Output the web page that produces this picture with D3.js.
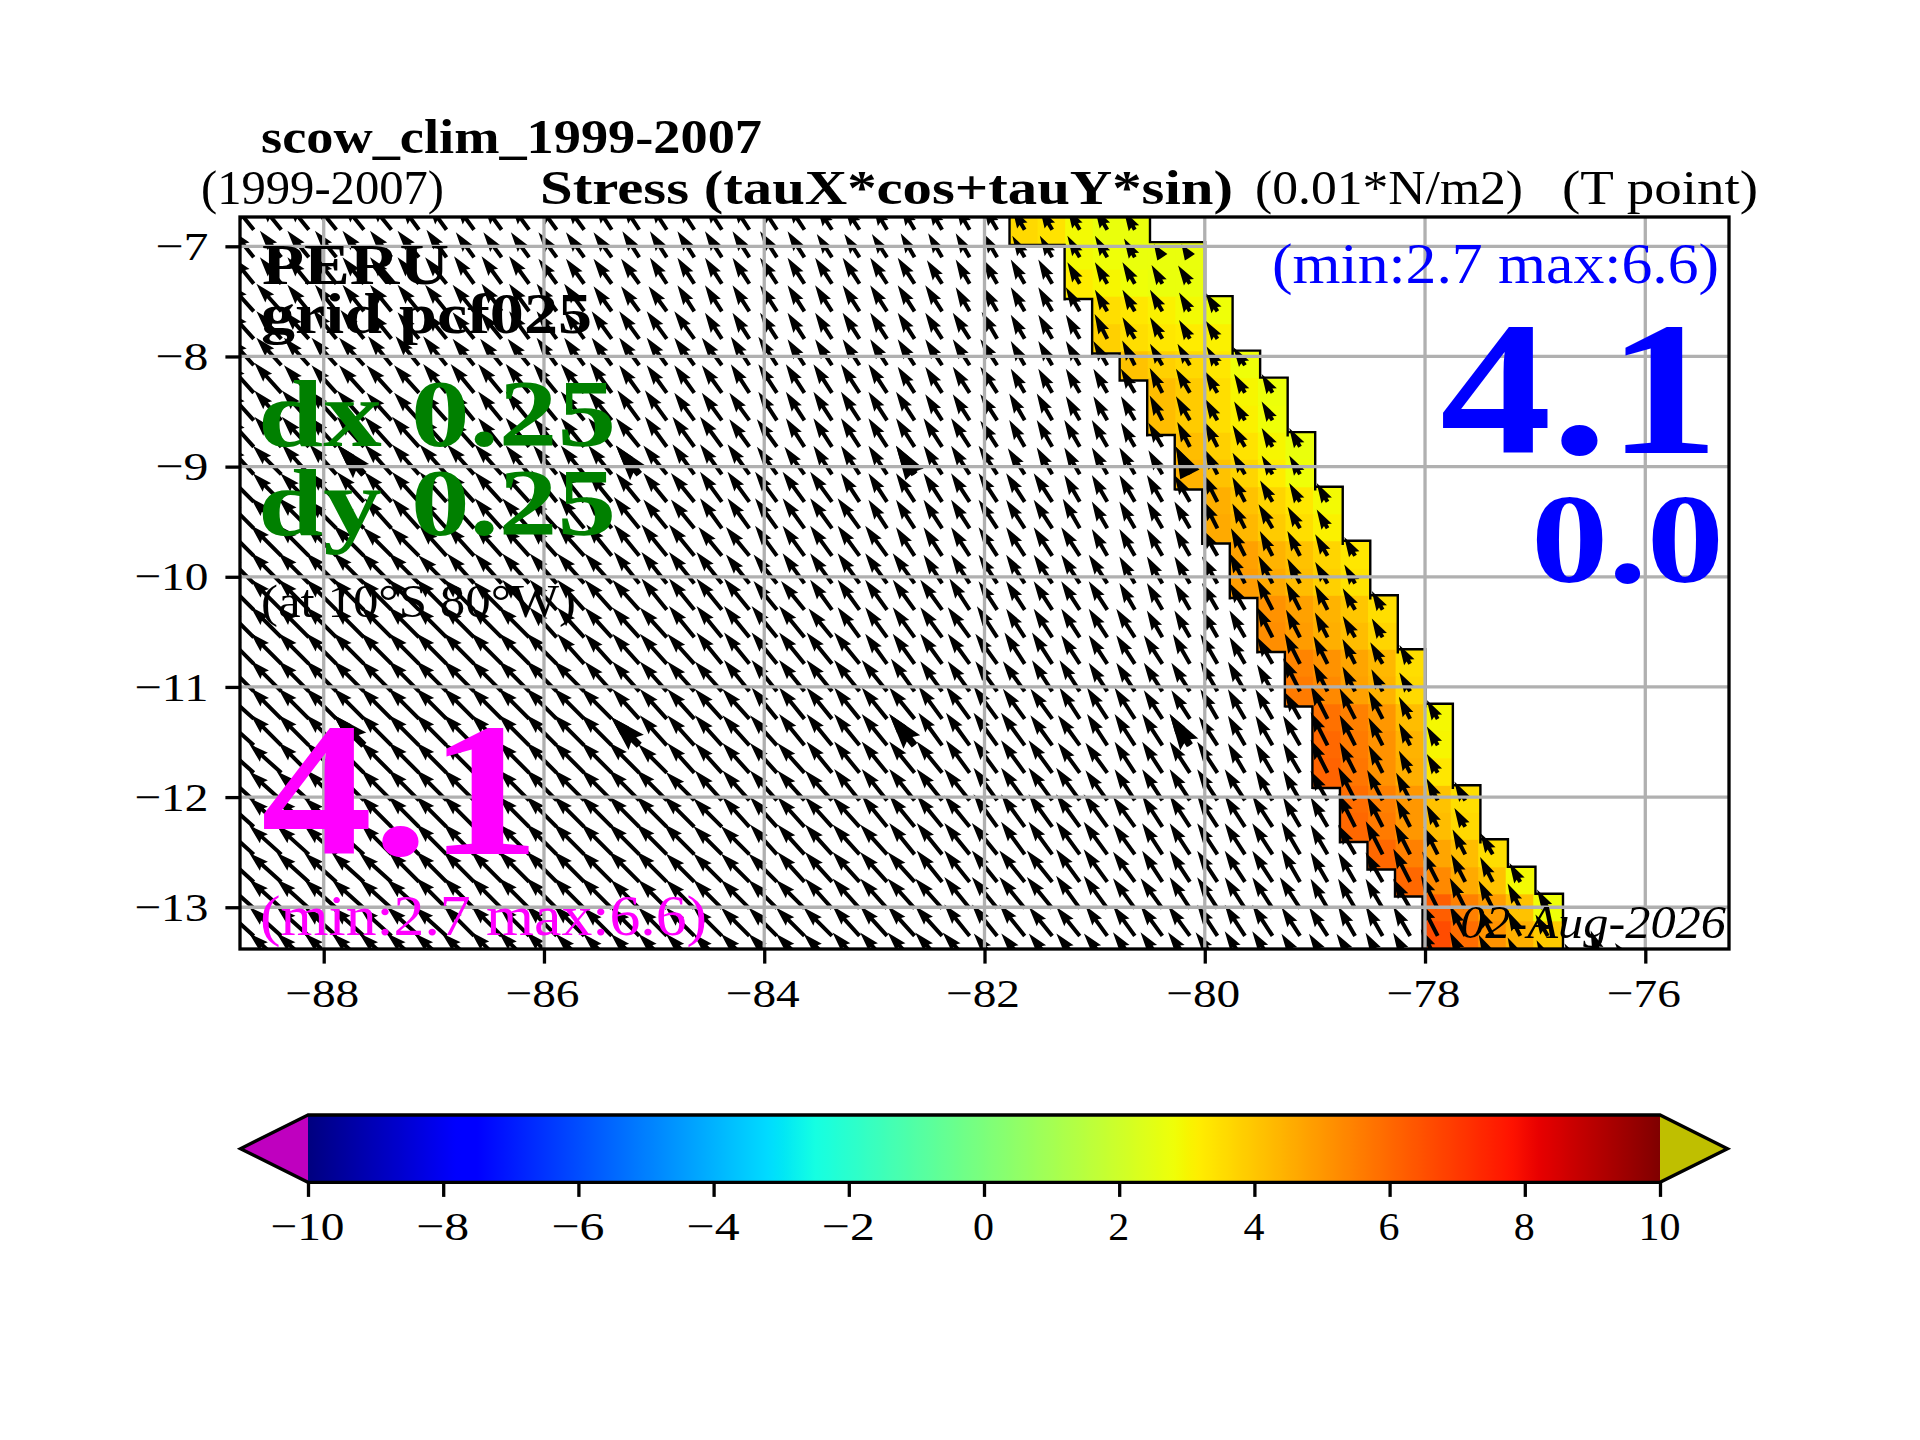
<!DOCTYPE html>
<html>
<head>
<meta charset="utf-8">
<script src="https://cdn.jsdelivr.net/npm/d3@7"></script>
<style>
body { margin: 0; background: #fff; }
text { font-family: "Liberation Serif", serif; }
</style>
</head>
<body>
<svg id="drawing_region"></svg>
<script>
const xTicks = [-88, -86, -84, -82, -80, -78, -76];
const yTicks = [-7, -8, -9, -10, -11, -12, -13];
const cbTicks = [-10, -8, -6, -4, -2, 0, 2, 4, 6, 8, 10];

// west edge of the grid and cell width, degrees
const firstLon = -88.76;
const cellLon = 0.25;
// latitudes of the row centres (mercator grid, so not quite 0.25)
const gridLat = [-6.85, -7.10, -7.34, -7.59, -7.84, -8.08, -8.33, -8.58, -8.82, -9.07,
    -9.32, -9.56, -9.81, -10.06, -10.30, -10.55, -10.79, -11.04, -11.29, -11.53,
    -11.78, -12.03, -12.27, -12.52, -12.77, -13.01, -13.26, -13.50];

// first coloured column of each row, the band is five cells wide
const bandStart = [28, 30, 30, 31, 31, 32, 33, 33, 34, 34, 35, 35, 36, 36, 37, 37, 38, 38, 39, 39, 39, 40, 40, 41, 42, 43, 43];
// alongshore stress in the band, 0.01 N/m2
const bandValues = [
    [3.6, 3.4, 2.9, 2.7, 2.7],
    [2.9, 2.8, 2.7, 2.7, 2.7],
    [3.2, 3.0, 2.8, 2.7, 2.7],
    [3.5, 3.3, 3.1, 2.9, 2.8],
    [3.8, 3.5, 3.3, 3.2, 3.1],
    [4.1, 3.8, 3.6, 3.3, 2.8],
    [4.2, 3.9, 3.5, 3.0, 2.75],
    [4.2, 3.9, 3.5, 3.1, 2.8],
    [4.2, 3.8, 3.4, 3.0, 2.7],
    [4.4, 4.1, 3.7, 3.2, 2.8],
    [4.5, 4.1, 3.7, 3.3, 2.9],
    [4.6, 4.3, 3.9, 3.5, 3.1],
    [4.8, 4.4, 4.1, 3.7, 3.3],
    [4.9, 4.6, 4.2, 3.8, 3.4],
    [5.1, 4.8, 4.4, 4.0, 3.5],
    [5.2, 4.9, 4.5, 4.2, 3.7],
    [5.4, 5.1, 4.7, 4.3, 3.5],
    [5.6, 5.3, 4.8, 4.4, 3.6],
    [5.8, 5.5, 5.0, 4.2, 2.95],
    [6.0, 5.6, 5.1, 4.4, 3.0],
    [6.1, 5.7, 5.1, 4.5, 3.3],
    [5.9, 5.5, 5.0, 4.1, 3.5],
    [6.0, 5.6, 5.0, 4.2, 3.6],
    [6.0, 5.5, 4.7, 4.2, 3.5],
    [6.0, 5.3, 4.6, 4.1, 2.9],
    [6.2, 5.5, 4.9, 4.1, 2.8],
    [6.6, 5.9, 5.1, 4.5, 3.9]
];

// arrow speed per cell, one digit per column: 0 is 2.5 and 9 is 7
const speedRows = [
    "66666655555 5555555555 4444444 33332",
    "66666666555 5555555555 4444444 33 33200",
    "66666666666 5555555555 5555444 44 33322",
    "77666666666 6655555555 5555544 444 33322",
    "77777666666 6666665555 5555555 444 43322",
    "77777777666 6666666665 5555555 4444 43322",
    "88777777777 7776666666 6665555 44444 44322",
    "88888777777 7777766666 6666555 55444 44322",
    "88888888777 7777777666 6666665 555544 44322",
    "88888888887 7777777766 6666666 555554 54322",
    "98888888888 8877777777 7666666 6655555 54322",
    "99988888888 8888777777 7766666 6665555 54432",
    "99999888888 8888887777 7776666 66655555 54432",
    "99999998888 8888888777 7777666 66665555 65432",
    "99999999988 8888888877 7777776 666655555 65432",
    "99999999999 8888888888 7777777 666665555 65432",
    "99999999999 9888888888 8877777 7766666655 65432",
    "99999999999 9988888888 8888777 7776666665 75432",
    "99999999999 9998888888 8888888 77777666665 76532",
    "99999999999 9998888888 8888888 87777776666 76532",
    "99999999999 9999888888 8888888 88777777666 76532",
    "99999999999 9999988888 8888888 888777777666 76532",
    "99999999999 9999998888 8888888 888877777766 76532",
    "99999999999 9999998888 8888888 8888777777766 76543",
    "99999999999 9999988888 8888888 88887777777666 76542",
    "99999999999 9998888888 8888888 888877777776666 76542",
    "99999999999 9988888888 8888888 877777777766666 76543",
    "99999999999 9888888888 8888887 777777777766666 76543263"
];
// arrow direction per cell, degrees north of west: 0 is 42 and 9 is 69
const directionRows = [
    "33333344444 4455555555 5566666 66666",
    "33333334444 4445555555 5556666 66 66655",
    "33333333444 4444555555 5555566 66 66665",
    "22333333344 4444455555 5555566 666 66665",
    "22233333334 4444445555 5555556 666 76665",
    "22222333333 4444444555 5555555 6666 76665",
    "22222223333 3344444555 5555555 66666 76666",
    "22222222333 3334444455 5555555 66666 76666",
    "22222222233 3333444445 5555555 666666 77666",
    "21222222223 3333344444 5555555 566666 77666",
    "11122222222 3333334444 4555555 5566666 77666",
    "11111222222 2333334444 4455555 5566666 77666",
    "11111112222 2233333344 4445555 55566666 77766",
    "11111111222 2223333334 4444555 55556666 77766",
    "11111111112 2222333333 4444455 555566666 77766",
    "11111111111 2222233333 3444445 555556666 77766",
    "11111111111 1222223333 3344444 5555556666 77766",
    "11111111111 1122222333 3334444 4555555666 77776",
    "01111111111 1112222233 3333444 44555556666 77776",
    "01111111111 1111222223 3333444 44455555666 77776",
    "00111111111 1111122222 3333344 44445555666 77776",
    "00011111111 1111112222 2333334 444455555666 77776",
    "00001111111 1111111222 2233334 444445555566 77776",
    "00000111111 1111111122 2223333 4444455555666 77776",
    "00000011111 1111111112 2222333 33444555556666 77776",
    "00000001111 1111111111 2222233 334444555556666 77776",
    "00000000111 1111111111 1222233 333444455555666 77776",
    "00000000011 1111111111 1222223 333344445555566 77777693"
];
// the sparser overlay of heavier arrows
const boldCols = [4, 14, 24, 34];
const boldRows = [9, 19];

const jetStops = {
    r: [[0, 0], [0.35, 0], [0.66, 1], [0.89, 1], [1, 0.5]],
    g: [[0, 0], [0.125, 0], [0.375, 1], [0.64, 1], [0.91, 0], [1, 0]],
    b: [[0, 0.5], [0.11, 1], [0.34, 1], [0.65, 0], [1, 0]]
};

const svg = d3.select('#drawing_region').attr('width', 1920).attr('height', 1440);
svg.append('rect').attr('width', 1920).attr('height', 1440).attr('fill', '#fff');

const plot = { left: 240, right: 1729, top: 217, bottom: 949 };
const xScale = d3.scaleLinear().domain([-88.76, -75.24]).range([plot.left, plot.right]);
const yScale = d3.scaleLinear().domain([-6.734, -13.379]).range([plot.top, plot.bottom]);
const cbScale = d3.scaleLinear().domain([-10, 10]).range([308, 1660]);

const speedOf = d3.scaleLinear().domain([0, 9]).range([2.5, 7]);
const angleOf = d3.scaleLinear().domain([0, 9]).range([42, 69]);
const arrowLength = d3.scaleLinear().domain([0, 1]).range([0, 6.2]);

const jetChannel = c => d3.scaleLinear().domain(jetStops[c].map(d => d[0])).range(jetStops[c].map(d => d[1]));
const jetR = jetChannel('r'), jetG = jetChannel('g'), jetB = jetChannel('b');
const valueToT = d3.scaleLinear().domain([-10, 10]).range([0, 1]).clamp(true);
function jet(v) {
    const t = valueToT(v);
    return d3.rgb(jetR(t) * 255, jetG(t) * 255, jetB(t) * 255).formatHex();
}

const colLeft = c => xScale(firstLon + c * cellLon);
const colCentre = c => xScale(firstLon + (c + 0.5) * cellLon);
const rowTop = r => r === 0
    ? yScale(gridLat[0]) - (yScale(gridLat[1]) - yScale(gridLat[0])) / 2
    : (yScale(gridLat[r - 1]) + yScale(gridLat[r])) / 2;

const defs = svg.append('defs');
defs.append('clipPath').attr('id', 'plot_clip')
    .append('rect')
    .attr('x', plot.left).attr('y', plot.top)
    .attr('width', plot.right - plot.left).attr('height', plot.bottom - plot.top);
const inner = svg.append('g').attr('clip-path', 'url(#plot_clip)');

// coloured band
const cells = [];
bandValues.forEach((row, r) => row.forEach((v, k) => cells.push({ r: r, c: bandStart[r] + k, v: v })));
inner.append('g').selectAll('rect')
    .data(cells)
    .enter()
    .append('rect')
    .attr('x', d => colLeft(d.c) - 0.8)
    .attr('y', d => rowTop(d.r) - 0.8)
    .attr('width', d => colLeft(d.c + 1) - colLeft(d.c) + 1.6)
    .attr('height', d => rowTop(d.r + 1) - rowTop(d.r) + 1.6)
    .attr('fill', d => jet(d.v));

// stair outline round the band, sits slightly outside the cells
const off = 1.4;
const stair = d3.path();
const nBand = bandStart.length;
stair.moveTo(colLeft(bandStart[0]) - off, rowTop(0) - 30);
stair.lineTo(colLeft(bandStart[0]) - off, rowTop(1) + off);
for (let r = 1; r < nBand; r++) {
    if (bandStart[r] !== bandStart[r - 1]) {
        stair.lineTo(colLeft(bandStart[r]) - off, rowTop(r) + off);
    }
    const next = r + 1 < nBand ? bandStart[r + 1] : bandStart[r];
    stair.lineTo(colLeft(bandStart[r]) - off, rowTop(r + 1) + (next !== bandStart[r] ? off : 30));
}
inner.append('path').attr('d', stair.toString())
    .attr('fill', 'none').attr('stroke', '#000').attr('stroke-width', 2.4);

const stairE = d3.path();
const bandEnd = r => bandStart[r] + bandValues[r].length;
stairE.moveTo(colLeft(bandEnd(0)) + off, rowTop(0) - 30);
stairE.lineTo(colLeft(bandEnd(0)) + off, rowTop(1) - off);
for (let r = 1; r < nBand; r++) {
    if (bandEnd(r) !== bandEnd(r - 1)) {
        stairE.lineTo(colLeft(bandEnd(r)) + off, rowTop(r) - off);
    }
    const next = r + 1 < nBand ? bandEnd(r + 1) : bandEnd(r);
    stairE.lineTo(colLeft(bandEnd(r)) + off, rowTop(r + 1) + (next !== bandEnd(r) ? -off : 30));
}
inner.append('path').attr('d', stairE.toString())
    .attr('fill', 'none').attr('stroke', '#000').attr('stroke-width', 2.4);

// quiver
function arrowShape(len, w) {
    const axis = Math.max(len - 4.5 * w, 0);
    const back = Math.max(len - 5 * w, 0);
    const p = d3.path();
    p.moveTo(0, -w / 2);
    p.lineTo(axis, -w / 2);
    p.lineTo(back, -1.5 * w);
    p.lineTo(len, 0);
    p.lineTo(back, 1.5 * w);
    p.lineTo(axis, w / 2);
    p.lineTo(0, w / 2);
    p.closePath();
    return p.toString();
}

const arrows = [];
speedRows.forEach((row, r) => {
    const speeds = row.replace(/ /g, '');
    const dirs = directionRows[r].replace(/ /g, '');
    d3.range(speeds.length).forEach(c => {
        arrows.push({ r: r, c: c, speed: speedOf(+speeds[c]), angle: angleOf(+dirs[c]) });
    });
});

const drawArrows = (data, w) => inner.append('g').selectAll('path')
    .data(data)
    .enter()
    .append('path')
    .attr('d', d => arrowShape(arrowLength(d.speed), w))
    .attr('transform', d => `translate(${colCentre(d.c)},${yScale(gridLat[d.r])}) rotate(${180 + d.angle})`)
    .attr('fill', '#000');

drawArrows(arrows, 4);
drawArrows(arrows.filter(d => boldCols.includes(d.c) && boldRows.includes(d.r)), 7.2);

// grid on top of the arrows
inner.append('g').selectAll('line').data(xTicks).enter().append('line')
    .attr('x1', d => xScale(d)).attr('x2', d => xScale(d))
    .attr('y1', plot.top).attr('y2', plot.bottom)
    .attr('stroke', '#b0b0b0').attr('stroke-width', 3.3);
inner.append('g').selectAll('line').data(yTicks).enter().append('line')
    .attr('y1', d => yScale(d)).attr('y2', d => yScale(d))
    .attr('x1', plot.left).attr('x2', plot.right)
    .attr('stroke', '#b0b0b0').attr('stroke-width', 3.3);

svg.append('rect')
    .attr('x', plot.left).attr('y', plot.top)
    .attr('width', plot.right - plot.left).attr('height', plot.bottom - plot.top)
    .attr('fill', 'none').attr('stroke', '#000').attr('stroke-width', 3.3);

// axes
const minusFmt = d => (d < 0 ? '\u2212' : '') + Math.abs(d);
const labelWidth = d => (d < 0 ? 32 : 0) + 21 * String(Math.abs(d)).length;

function styleAxis(g) {
    g.select('.domain').remove();
    g.selectAll('.tick line').attr('stroke', '#000').attr('stroke-width', 3.3);
    g.selectAll('.tick text')
        .attr('fill', '#000')
        .style('font-size', '41px')
        .style('font-family', '"Liberation Serif", serif')
        .attr('lengthAdjust', 'spacingAndGlyphs')
        .attr('textLength', d => labelWidth(d));
}

svg.append('g')
    .attr('transform', `translate(0,${plot.bottom})`)
    .call(d3.axisBottom(xScale).tickValues(xTicks).tickFormat(minusFmt).tickSize(14.6).tickPadding(14))
    .call(styleAxis)
    .selectAll('.tick text').attr('dx', -2);
svg.append('g')
    .attr('transform', `translate(${plot.left},0)`)
    .call(d3.axisLeft(yScale).tickValues(yTicks).tickFormat(minusFmt).tickSize(14.6).tickPadding(17))
    .call(styleAxis);

// colorbar
const cb = { top: 1115, bottom: 1182.3, tipLeft: 240.5, tipRight: 1727.5 };
const cbMid = (cb.top + cb.bottom) / 2;
const cbLevels = d3.range(257);
const levelValue = d3.scaleLinear().domain([0, 256]).range([-10, 10]);
const grad = defs.append('linearGradient').attr('id', 'jet_ramp');
grad.selectAll('stop')
    .data(cbLevels)
    .enter()
    .append('stop')
    .attr('offset', d => d / 256)
    .attr('stop-color', d => jet(levelValue(d)));
const cbg = svg.append('g');
cbg.append('rect')
    .attr('x', cbScale(-10))
    .attr('y', cb.top)
    .attr('width', cbScale(10) - cbScale(-10))
    .attr('height', cb.bottom - cb.top)
    .attr('fill', 'url(#jet_ramp)');
const line = d3.line();
cbg.append('path')
    .attr('d', line([[cbScale(-10), cb.top], [cb.tipLeft, cbMid], [cbScale(-10), cb.bottom]]) + 'Z')
    .attr('fill', '#bf00bf');
cbg.append('path')
    .attr('d', line([[cbScale(10), cb.top], [cb.tipRight, cbMid], [cbScale(10), cb.bottom]]) + 'Z')
    .attr('fill', '#bfbf00');
cbg.append('path')
    .attr('d', line([[cbScale(-10), cb.top], [cb.tipLeft, cbMid], [cbScale(-10), cb.bottom],
        [cbScale(10), cb.bottom], [cb.tipRight, cbMid], [cbScale(10), cb.top]]) + 'Z')
    .attr('fill', 'none').attr('stroke', '#000').attr('stroke-width', 3.3);
svg.append('g')
    .attr('transform', `translate(0,${cb.bottom})`)
    .call(d3.axisBottom(cbScale).tickValues(cbTicks).tickFormat(minusFmt).tickSize(14.6).tickPadding(14))
    .call(styleAxis)
    .selectAll('.tick text').attr('dx', -1);

// all the text written on the figure
function label(str, x, y, size, width, opt) {
    opt = opt || {};
    svg.append('text')
        .attr('x', x).attr('y', y)
        .attr('textLength', width)
        .attr('lengthAdjust', 'spacingAndGlyphs')
        .attr('fill', opt.fill || '#000')
        .attr('font-weight', opt.bold ? 'bold' : 'normal')
        .attr('font-style', opt.italic ? 'italic' : 'normal')
        .style('font-size', size + 'px')
        .text(str);
}

label('scow_clim_1999-2007', 261, 153, 48, 501, { bold: true });
label('(1999-2007)', 201, 204, 48, 243);
label('Stress (tauX*cos+tauY*sin)', 540, 204, 48, 693, { bold: true });
label('(0.01*N/m2)', 1255, 204, 48, 268);
label('(T point)', 1562, 204, 48, 196);
label('PERU', 262, 284, 58, 187, { bold: true });
label('grid pcf025', 261, 333, 58, 331, { bold: true });
label('dx 0.25', 258, 446, 96, 358, { bold: true, fill: '#008000' });
label('dy 0.25', 258, 535, 96, 358, { bold: true, fill: '#008000' });
label('(at 10\u00b0S 80\u00b0W)', 261, 617, 46, 315);
label('4.1', 261, 854, 191, 279, { bold: true, fill: '#ff00ff' });
label('(min:2.7 max:6.6)', 260, 935, 56, 447, { fill: '#ff00ff' });
label('(min:2.7 max:6.6)', 1272, 283, 56, 447, { fill: '#0000ff' });
label('4.1', 1440, 453, 191, 279, { bold: true, fill: '#0000ff' });
label('0.0', 1531, 582, 126, 193, { bold: true, fill: '#0000ff' });
label('02-Aug-2026', 1460, 938, 46, 266, { italic: true });
</script>
</body>
</html>
